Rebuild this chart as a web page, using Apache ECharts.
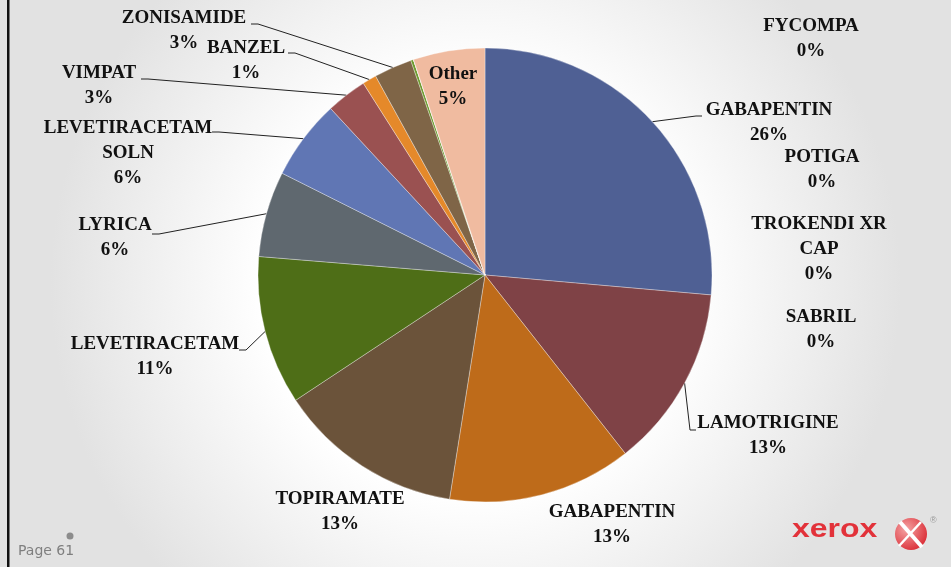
<!DOCTYPE html>
<html>
<head>
<meta charset="utf-8">
<script src="https://cdn.jsdelivr.net/npm/echarts@6/dist/echarts.min.js"></script>
<style>
  html, body { margin: 0; padding: 0; }
  #chart { width: 951px; height: 567px; }
</style>
</head>
<body>
<div id="chart"></div>
<script>
// drug share of claims, clockwise from 12 o'clock
const drugs = ['GABAPENTIN', 'LAMOTRIGINE', 'GABAPENTIN', 'TOPIRAMATE', 'LEVETIRACETAM', 'LYRICA',
  'LEVETIRACETAM\nSOLN', 'VIMPAT', 'BANZEL', 'ZONISAMIDE', 'FYCOMPA', 'POTIGA', 'TROKENDI XR\nCAP', 'SABRIL', 'Other'];
const shares = [26.4, 13.0, 13.1, 13.2, 10.6, 6.1, 5.7, 2.9, 1.0, 2.7, 0.2, 0, 0, 0, 5.1];
const sliceColors = ['#4f6094', '#7f4246', '#be6b1a', '#6b533a', '#4e6e17', '#5f686f',
  '#6076b4', '#9a5151', '#e5892a', '#7f6547', '#6e9a2f', '#8aa0c8', '#c08080', '#a0a0a0', '#f0bba0'];

// where each label sits (block centre) and where its leader line meets it
const labelSpots = [
  { x: 769, y: 123, ax: 702, ay: 116 },
  { x: 768, y: 436, ax: 696, ay: 430 },
  { x: 612, y: 525 },
  { x: 340, y: 512 },
  { x: 155, y: 357, ax: 239, ay: 350 },
  { x: 115, y: 238, ax: 152, ay: 234 },
  { x: 128, y: 153, ax: 212, ay: 132 },
  { x: 99, y: 86, ax: 141, ay: 79 },
  { x: 246, y: 61, ax: 288, ay: 53 },
  { x: 184, y: 31, ax: 251, ay: 24 },
  { x: 811, y: 39 },
  { x: 822, y: 170 },
  { x: 819, y: 249 },
  { x: 821, y: 330 },
  { x: 453, y: 87 }
];

const cx = 485, cy = 275;

let chart = echarts.init(document.getElementById('chart'));

let option = {
  backgroundColor: {
    type: 'radial', x: 0.5, y: 0.5, r: 0.75,
    colorStops: [
      { offset: 0, color: '#ffffff' },
      { offset: 0.5, color: '#ffffff' },
      { offset: 1, color: '#e2e2e2' }
    ]
  },
  graphic: [
    { type: 'rect', shape: { x: 7, y: 0, width: 2.5, height: 567 }, style: { fill: '#111' } },
    { type: 'circle', shape: { cx: 70, cy: 536, r: 3.5 }, style: { fill: '#8c8c8c' } },
    { type: 'text', left: 18, top: 544, style: { text: 'Page 61', fill: '#7f7f7f', font: '14px "DejaVu Sans", sans-serif' } },
    { type: 'text', x: 792, y: 518, scaleX: 1.28, style: { text: 'xerox', fill: '#e2323a', font: 'bold 25px "Liberation Sans", Arial, sans-serif' } },
    { type: 'circle', shape: { cx: 911, cy: 534, r: 16 }, style: {
        fill: { type: 'radial', x: 0.35, y: 0.35, r: 0.8,
          colorStops: [{ offset: 0, color: '#f4a4a4' }, { offset: 1, color: '#d8202a' }] } } },
    { type: 'line', shape: { x1: 900, y1: 522, x2: 922, y2: 547 }, style: { stroke: '#ffffff', lineWidth: 4 } },
    { type: 'line', shape: { x1: 921, y1: 522, x2: 899, y2: 546 }, style: { stroke: '#ffffff', lineWidth: 2.5 } },
    { type: 'text', left: 930, top: 516, style: { text: '®', fill: '#999', font: '9px sans-serif' } }
  ],
  series: [
    {
      type: 'pie',
      center: [cx, cy],
      radius: 227,
      startAngle: 90,
      clockwise: true,
      percentPrecision: 0,
      avoidLabelOverlap: false,
      animation: false,
      itemStyle: { borderColor: 'rgba(255,255,255,0.55)', borderWidth: 0.6 },
      label: {
        show: true,
        formatter: '{b}\n{d}%',
        fontFamily: '"Liberation Serif", "Times New Roman", serif',
        fontWeight: 'bold',
        fontSize: 19,
        lineHeight: 25,
        color: '#111111'
      },
      labelLine: { show: true, lineStyle: { color: '#222', width: 1 } },
      labelLayout: function (params) {
        const spot = labelSpots[params.dataIndex];
        const out = { x: spot.x, y: spot.y, align: 'center', verticalAlign: 'middle' };
        if (spot.ax != null && params.labelLinePoints) {
          const start = params.labelLinePoints[0];
          const elbow = spot.ax > cx ? spot.ax - 6 : spot.ax + 7;
          out.labelLinePoints = [start, [elbow, spot.ay], [spot.ax, spot.ay]];
        }
        return out;
      },
      data: drugs.map((name, i) => ({
        name: name,
        value: shares[i],
        itemStyle: { color: sliceColors[i] },
        labelLine: { show: labelSpots[i].ax != null }
      }))
    }
  ]
};

option && chart.setOption(option);
</script>
</body>
</html>
